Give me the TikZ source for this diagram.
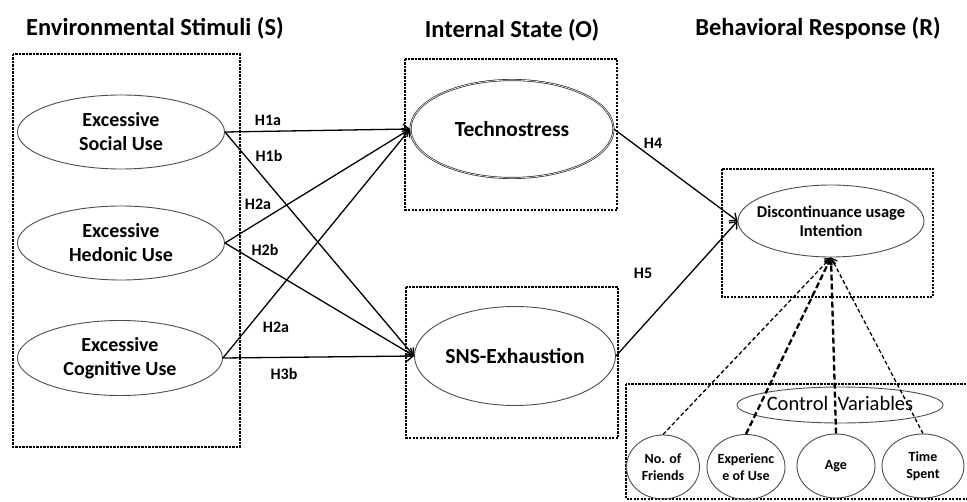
\documentclass[tikz,border=0pt]{standalone}
\usepackage{fontspec}
\setmainfont{Carlito}
\usetikzlibrary{shapes.geometric,arrows.meta}
\begin{document}
\begin{tikzpicture}[x=1pt,y=-1pt,
  title/.style={font=\bfseries\fontsize{24.5}{27}\selectfont, inner sep=0pt},
  var/.style={draw=black!70, line width=0.9pt, ellipse, inner sep=0pt},
  vartext/.style={font=\bfseries\fontsize{20}{24}\selectfont, align=center},
  bigtext/.style={font=\bfseries\fontsize{21.5}{24}\selectfont},
  grp/.style={draw, line width=1.4pt, dash pattern=on 2.2pt off 1.3pt},
  hpath/.style={draw, line width=1.3pt, -{Straight Barb[length=6pt,width=10pt]}},
  hyp/.style={font=\bfseries\fontsize{16}{18}\selectfont, inner sep=0pt},
  ctlthin/.style={draw, line width=1.3pt, dash pattern=on 4pt off 2.5pt, -{Straight Barb[length=5pt,width=8pt]}},
  ctlthick/.style={draw, line width=2.3pt, dash pattern=on 6pt off 3pt, -{Straight Barb[length=5pt,width=8pt]}},
  small/.style={font=\bfseries\fontsize{14}{17}\selectfont, align=center}
]
\useasboundingbox (0,0) rectangle (967,502);

% column headings
\node[title] (tS) at (155,28) {Environmental Stimuli (S)};
\node[title] (tO) at (512,30) {Internal State (O)};
\node[title] (tR) at (818,28) {Behavioral Response (R)};

% group frames
\draw[grp] (13,54) rectangle (240,447);
\draw[grp] (405,59) rectangle (617,210);
\draw[grp] (406,287) rectangle (618,438);
\draw[grp] (722,169) rectangle (933,297);
\draw[grp] (626,384) rectangle (975,499);

% stimuli
\node[var, minimum width=207, minimum height=74] (soc) at (121,132) {};
\node[vartext] (socT) at (soc.center) {Excessive\\Social Use};
\node[var, minimum width=207, minimum height=74] (hed) at (121,243) {};
\node[vartext] (hedT) at (hed.center) {Excessive\\Hedonic Use};
\node[var, minimum width=205, minimum height=75] (cog) at (120,358) {};
\node[vartext] (cogT) at (cog.center) {Excessive\\Cognitive Use};

% organism
\node[var, draw=black!85, double=white, double distance=0.6pt, line width=0.7pt,
      minimum width=203, minimum height=98] (tech) at (512,129) {};
\node[bigtext] (techT) at (tech.center) {Technostress};
\node[var, minimum width=201, minimum height=99] (sns) at (515,356) {};
\node[bigtext] (snsT) at (sns.center) {SNS-Exhaustion};

% response
\node[var, minimum width=186, minimum height=72] (disc) at (831,221) {};
\node[font=\bfseries\fontsize{16.5}{19}\selectfont, align=center] (discT) at (disc.center) {Discontinuance usage\\Intention};

% control variables
\node[var, minimum width=206, minimum height=36] (ctl) at (840,405) {};
\node[font=\fontsize{20.5}{22}\selectfont] (ctlT) at (840,403) {Control\ \ Variables};
\node[var, minimum width=73, minimum height=64] (fri) at (663,467) {};
\node[small] (friT) at (fri.center) {No. of\\Friends};
\node[var, minimum width=78, minimum height=65] (exp) at (746,467) {};
\node[small] (expT) at (exp.center) {Experienc\\e of Use};
\node[var, minimum width=78, minimum height=64] (age) at (836,466) {};
\node[small] (ageT) at (age.center) {Age};
\node[var, minimum width=82, minimum height=64] (tim) at (923,466) {};
\node[small] (timT) at (tim.center) {Time\\Spent};

% hypothesised paths
\path[hpath] (soc.east) -- (tech.west);
\path[hpath] (soc.east) -- (sns.west);
\path[hpath] (hed.east) -- (tech.west);
\path[hpath] (hed.east) -- (sns.west);
\path[hpath] (cog.east) -- (tech.west);
\path[hpath] (cog.east) -- (sns.west);
\path[hpath] (tech.east) -- (disc.west);
\path[hpath] (sns.east) -- (disc.west);

% path labels
\node[hyp] (h1a) at (268,120) {H1a};
\node[hyp] (h1b) at (269,156) {H1b};
\node[hyp] (h2a) at (258,204) {H2a};
\node[hyp] (h2b) at (265,250) {H2b};
\node[hyp] (h2c) at (276,327) {H2a};
\node[hyp] (h3b) at (284,374) {H3b};
\node[hyp] (h4) at (653,143) {H4};
\node[hyp] (h5) at (643,273) {H5};

% control effects
\path[ctlthin] (fri.north) -- (disc.south);
\path[ctlthick] (exp.north) -- (disc.south);
\path[ctlthick] (age.north) -- (disc.south);
\path[ctlthin] (tim.north) -- (disc.south);
\end{tikzpicture}
\end{document}
